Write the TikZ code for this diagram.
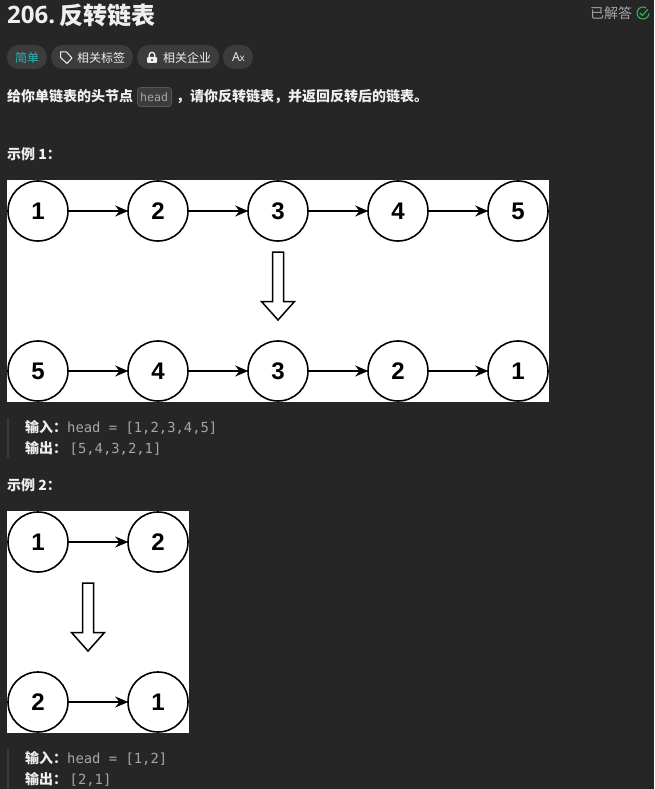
\documentclass[tikz,border=0pt]{standalone}
\usepackage{fontspec}
\usetikzlibrary{arrows.meta}
\setmainfont{Noto Sans CJK SC}
\newfontfamily\latinf{Open Sans}
\newfontfamily\monof{DejaVu Sans Mono}
\newfontfamily\circf{Liberation Sans}[Scale=1]
\definecolor{pagebg}{HTML}{262626}
\definecolor{chipbg}{HTML}{3C3C3C}
\definecolor{soft}{HTML}{EFEFEF}
\definecolor{codegrey}{HTML}{A6A6A6}
\definecolor{teal}{HTML}{2DB8B0}
\definecolor{okgreen}{HTML}{2DB84D}
\tikzset{
  x=1pt,y=-1pt,
  lnode/.style={circle,draw=black,line width=1.6pt,fill=white,minimum size=60pt,inner sep=0pt,font=\circf\fontsize{24}{24}\selectfont\bfseries,text=black},
  larrow/.style={draw=black,line width=1.5pt,-{Stealth[length=13pt,width=11pt]},shorten >=-1pt},
  blockarrow/.style={draw=black,line width=1.5pt,fill=white,line join=miter},
  chip/.style={rounded corners=11.5pt,fill=chipbg,draw=none},
  txt/.style={anchor=west,inner sep=0pt,text=soft},
  bodytxt/.style={txt,font=\fontsize{14}{14}\selectfont\bfseries},
  chiptxt/.style={anchor=west,inner sep=0pt,text=soft,font=\fontsize{12}{13}\selectfont},
  codetxt/.style={anchor=west,inner sep=0pt,text=codegrey,font=\monof\fontsize{13.85}{14}\selectfont},
  quotebar/.style={fill=chipbg,draw=none},
}
\begin{document}
\begin{tikzpicture}
\useasboundingbox (0,0) rectangle (654,789);
\fill[pagebg] (0,0) rectangle (654,789);
% header
\node[txt,font=\latinf\fontsize{24}{24}\selectfont\bfseries] (num) at (7,15) {206.};
\node[txt,font=\fontsize{24}{24}\selectfont\bfseries] (title) at (59.5,15) {反转链表};
\node[anchor=west,inner sep=0pt,text=codegrey,font=\fontsize{14}{14}\selectfont] (solved) at (590,13) {已解答};
\draw[okgreen,line width=1.1pt] (649,13.5) arc (5:300:6);
\draw[okgreen,line width=1.1pt,line cap=round,line join=round] (640,13) -- (642.5,15.5) -- (647.5,9.5);
% chips
\fill[chip] (7,45) rectangle (47,69);
\fill[chip] (51,45) rectangle (133,69);
\fill[chip] (137,45) rectangle (219,69);
\fill[chip] (223,45) rectangle (253,69);
\node[chiptxt,text=teal] (easy) at (15,57.5) {简单};
\draw[soft,line width=1pt,line join=round] (60.5,52) -- (66.5,52) -- (72,58) -- (67,63.5) -- (60.5,57.5) -- cycle;
\node[chiptxt] (tags) at (77,57.5) {相关标签};
\fill[soft,rounded corners=1pt] (147,57) rectangle (157,63);
\draw[soft,line width=1.3pt] (149.3,57) -- (149.3,55) arc (180:360:2.7) -- (154.7,57);
\fill[chipbg] (152,60) circle (1.1);
\node[chiptxt] (comp) at (163,57.5) {相关企业};
\node[anchor=west,inner sep=0pt,text=soft,font=\latinf\fontsize{12.5}{13}\selectfont] (font) at (232,57) {A};
\node[anchor=west,inner sep=0pt,text=soft,font=\latinf\fontsize{10}{10}\selectfont] (fontb) at (239.5,58.5) {x};
% description
\node[bodytxt] (d1) at (7,96.5) {给你单链表的头节点};
\fill[chipbg,rounded corners=3pt,draw=white!22!pagebg,line width=.7pt] (137.5,87.5) rectangle (171.5,106.5);
\node[anchor=west,inner sep=0pt,text=codegrey,font=\monof\fontsize{11.6}{12}\selectfont] (hd) at (140,97) {head};
\node[bodytxt] (d2) at (176,96.5) {，请你反转链表，并返回反转后的链表。};
\node[bodytxt] (ex1) at (7,154) {示例 1：};
% example 1
\fill[white] (7,180) rectangle (549,402);
\foreach \n/\x/\t in {a1/38/1,a2/158/2,a3/278/3,a4/398/4,a5/518/5}
  \node[lnode] (\n) at (\x,211) {\t};
\foreach \n/\x/\t in {b1/38/5,b2/158/4,b3/278/3,b4/398/2,b5/518/1}
  \node[lnode] (\n) at (\x,371) {\t};
\foreach \p/\q in {a1/a2,a2/a3,a3/a4,a4/a5,b1/b2,b2/b3,b3/b4,b4/b5}
  \draw[larrow] (\p) -- (\q);
\draw[blockarrow] (272.5,252) -- (283.5,252) -- (283.5,301.5) -- (294.5,301.5) -- (278,320) -- (261.5,301.5) -- (272.5,301.5) -- cycle;
% io 1
\fill[quotebar] (7,418) rectangle (9,458);
\node[bodytxt] (i1) at (25,427.5) {输入：};
\node[codetxt] (i1v) at (67,428) {head = [1,2,3,4,5]};
\node[bodytxt] (o1) at (25,448.5) {输出：};
\node[codetxt] (o1v) at (69.5,449) {[5,4,3,2,1]};
\node[bodytxt] (ex2) at (7,485) {示例 2：};
% example 2
\fill[white] (7,511) rectangle (189,733);
\node[lnode] (c1) at (38,542) {1};
\node[lnode] (c2) at (158,542) {2};
\node[lnode] (e1) at (38,702) {2};
\node[lnode] (e2) at (158,702) {1};
\draw[larrow] (c1) -- (c2);
\draw[larrow] (e1) -- (e2);
\draw[blockarrow] (82.5,583) -- (93.5,583) -- (93.5,632.5) -- (104.5,632.5) -- (88,651) -- (71.5,632.5) -- (82.5,632.5) -- cycle;
% io 2
\fill[quotebar] (7,749) rectangle (9,789);
\node[bodytxt] (i2) at (25,758.5) {输入：};
\node[codetxt] (i2v) at (67,759) {head = [1,2]};
\node[bodytxt] (o2) at (25,779.5) {输出：};
\node[codetxt] (o2v) at (69.5,780) {[2,1]};
\end{tikzpicture}
\end{document}
